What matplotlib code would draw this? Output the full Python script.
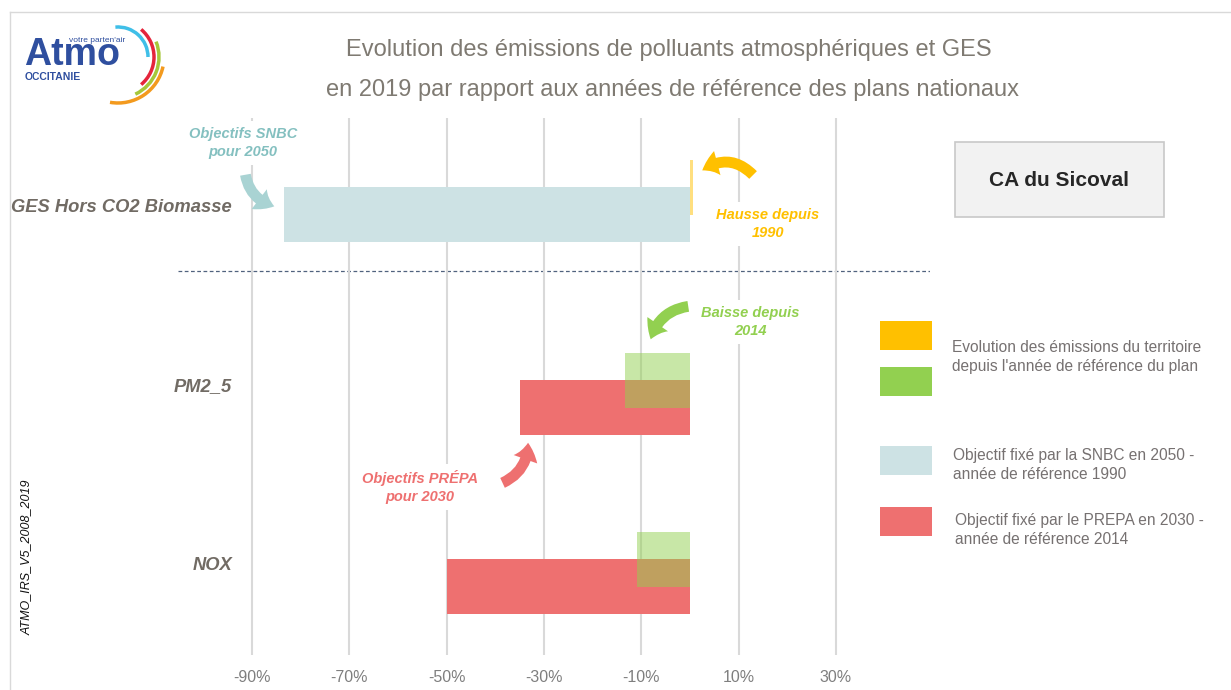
import numpy as np
import matplotlib
matplotlib.use("Agg")
import matplotlib.pyplot as plt
from matplotlib.patches import Rectangle, FancyArrowPatch, Arc

# --- data ---
categories = ["GES Hors CO2 Biomasse", "PM2_5", "NOX"]
evolution = [0.6, -13.4, -10.9]          # evolution since reference year (%)
objectif = [-83.5, -35.0, -50.0]         # national plan targets (%)
evo_colors = ["#ffc000", "#92d050", "#92d050"]
obj_colors = ["#cde2e4", "#ee7070", "#ee7070"]
xticks = [-90, -70, -50, -30, -10, 10, 30]

W, H = 1231, 690
plt.rcParams['font.family'] = ['Liberation Sans', 'DejaVu Sans']

fig = plt.figure(figsize=(W / 100, H / 100), dpi=100)

def fx(x):
    return x / W

def fy(y):
    return 1 - y / H

# plot area (pixel box of the original)
ax = fig.add_axes([fx(178), fy(655), (930 - 178) / W, (655 - 118) / H])
x0, px_per = 690, 4.865
ax.set_xlim((178 - x0) / px_per, (930 - x0) / px_per)

ypos = np.array([0.0, 1.08, 2.08])      # category layout
bh = 0.307
ax.set_ylim(2.461, -0.539)

ax.barh(ypos, objectif, height=bh, color=obj_colors, zorder=2)
ax.barh(ypos - 0.151, evolution, height=bh, color=evo_colors, alpha=0.5, zorder=3)

ax.set_xticks(xticks)
ax.set_xticklabels([f"{v}%" for v in xticks], color="#7f7f7f", fontsize=11.5)
ax.tick_params(axis="x", length=0, pad=11)
ax.set_yticks([])
ax.grid(axis="x", color="#d9d9d9", lw=1.5, zorder=0)
for s in ax.spines.values():
    s.set_visible(False)
ax.axhline(0.316, color="#50627e", lw=0.9, ls=(0, (3, 2)), zorder=1)

lab_y = [208, 387, 565]
for c, yy in zip(categories, lab_y):
    fig.text(fx(232), fy(yy), c, ha="right", va="center", fontsize=13.2,
             fontweight="bold", fontstyle="italic", color="#716b64")

# title
fig.text(fx(669), fy(50), "Evolution des émissions de polluants atmosphériques et GES",
         ha="center", va="center", fontsize=17, color="#7f7a72")
fig.text(fx(672), fy(90), "en 2019 par rapport aux années de référence des plans nationaux",
         ha="center", va="center", fontsize=17, color="#7f7a72")

# annotations
def note(x, y, s, col):
    fig.text(fx(x), fy(y), s, ha="center", va="center", fontsize=10.5,
             fontweight="bold", fontstyle="italic", color=col, linespacing=1.45,
             bbox=dict(facecolor="white", edgecolor="none", pad=4), zorder=5)

note(243, 143, "Objectifs SNBC\npour 2050", "#84c0c0")
note(768, 224, "Hausse depuis\n1990", "#ffc000")
note(750, 322, "Baisse depuis\n2014", "#92d050")
note(420, 487, "Objectifs PRÉPA\npour 2030", "#ee7070")

def arrow(a, b, col, rad):
    p = FancyArrowPatch((fx(a[0]), fy(a[1])), (fx(b[0]), fy(b[1])),
                        transform=fig.transFigure,
                        connectionstyle=f"arc3,rad={rad}",
                        arrowstyle="simple,head_width=1.5,head_length=1.0,tail_width=0.65",
                        mutation_scale=12, color=col, lw=0, zorder=6)
    fig.add_artist(p)

arrow((245, 172), (277, 207), "#a9d3d3", 0.35)
arrow((755, 177), (700, 172), "#ffc000", 0.45)
arrow((691, 306), (650, 342), "#92d050", 0.35)
arrow((500, 484), (528, 440), "#ee7070", 0.35)

# legend
leg = [(321, "#ffc000"), (367, "#92d050"), (446, "#cde2e4"), (507, "#ee7070")]
for yy, col in leg:
    fig.add_artist(Rectangle((fx(880), fy(yy + 29)), 52 / W, 29 / H,
                             transform=fig.transFigure, color=col, lw=0))
legend_txt = [(952, 357, "Evolution des émissions du territoire\ndepuis l'année de référence du plan"),
              (953, 465, "Objectif fixé par la SNBC en 2050 -\nannée de référence 1990"),
              (955, 530, "Objectif fixé par le PREPA en 2030 -\nannée de référence 2014")]
for xx, yy, s in legend_txt:
    fig.text(fx(xx), fy(yy), s, ha="left", va="center", fontsize=11.2,
             color="#767171", linespacing=1.4)

# territory box
fig.add_artist(Rectangle((fx(955), fy(217)), (1164 - 955) / W, (217 - 142) / H,
                         transform=fig.transFigure, facecolor="#f2f2f2",
                         edgecolor="#c8c8c8", lw=1.2))
fig.text(fx(1059), fy(181), "CA du Sicoval", ha="center", va="center",
         fontsize=15, fontweight="bold", color="#262626")

# version tag
fig.text(fx(27), fy(557), "ATMO_IRS_V5_2008_2019", rotation=90, ha="center",
         va="center", fontsize=9, fontstyle="italic", color="#111111")

# frame
fig.add_artist(plt.Line2D([fx(10), fx(10)], [fy(12), 0], transform=fig.transFigure,
                          color="#d9d9d9", lw=1))
fig.add_artist(plt.Line2D([fx(10), 1], [fy(12), fy(12)], transform=fig.transFigure,
                          color="#d9d9d9", lw=1))

# logo
fig.text(fx(24), fy(65), "Atmo", ha="left", va="baseline", fontsize=27,
         fontweight="bold", color="#2f4f9f")
fig.text(fx(69), fy(42), "votre parten'air", ha="left", va="baseline", fontsize=6,
         color="#2f4f9f")
fig.text(fx(25), fy(80), "OCCITANIE", ha="left", va="baseline", fontsize=7.5,
         fontweight="bold", color="#2f4f9f")
lax = fig.add_axes([fx(60), fy(110), 110 / W, 100 / H])
lax.set_xlim(60, 170)
lax.set_ylim(H - 110, H - 10)
lax.axis("off")
for r, t1, t2, col in [(30, 0, 95, "#3fbfe8"), (36, -50, 50, "#e5243b"),
                       (41, -65, 22, "#a6c73a"), (46, -100, -12, "#f39a1e")]:
    lax.add_patch(Arc((118, H - 57), 2 * r, 2 * r, theta1=t1, theta2=t2,
                      color=col, lw=2.5))

fig.savefig("out.png", dpi=100)
